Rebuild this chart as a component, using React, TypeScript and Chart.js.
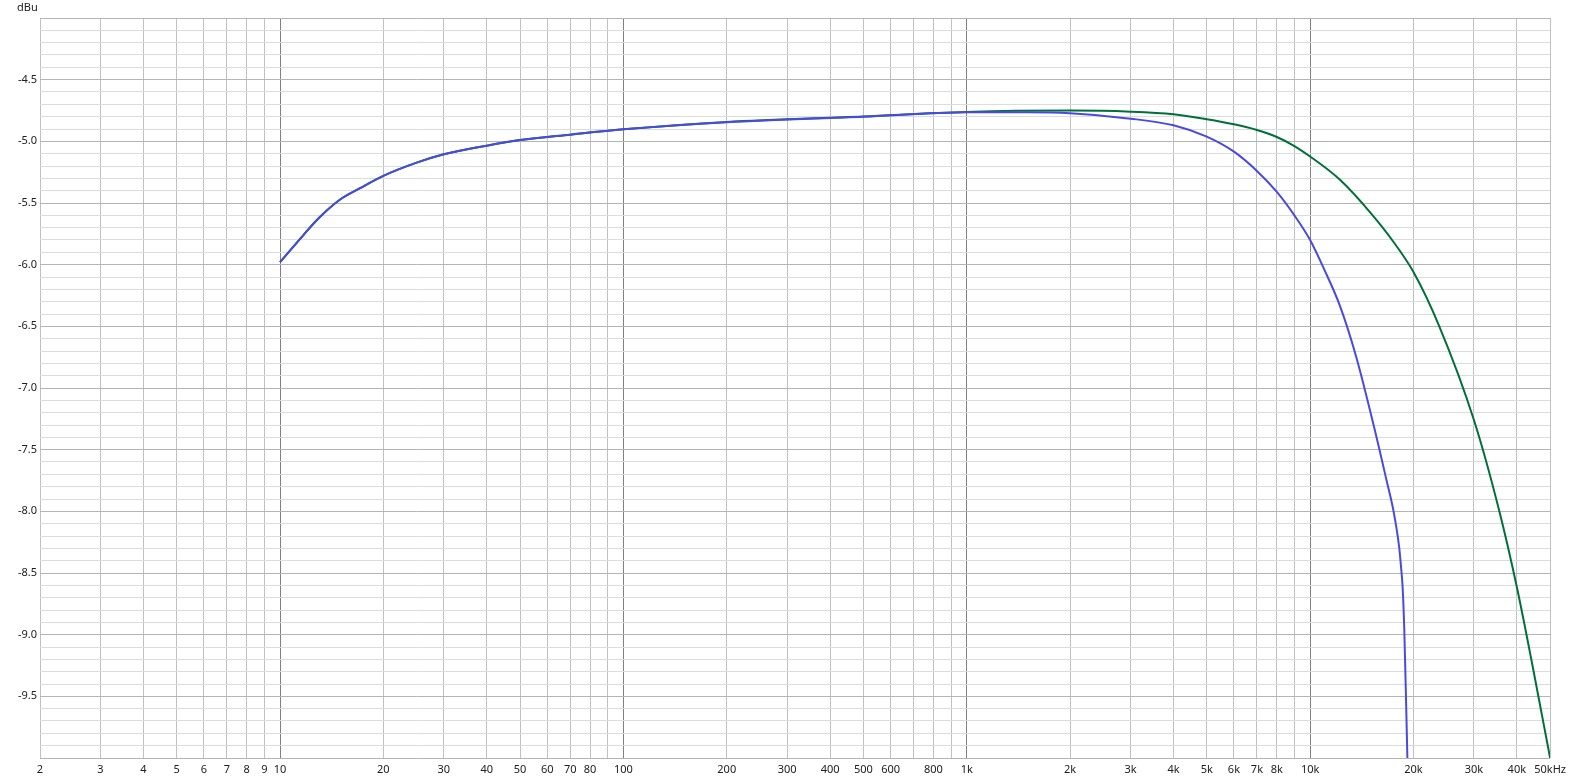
import React, { useEffect, useRef } from "react";
import { Chart, registerables } from "chart.js";

Chart.register(...registerables);

// Blue trace (Hz, dBu)
const blueFreq = [10, 11.7, 13, 15, 17.1, 20, 25, 30, 40, 50, 70, 100, 200, 500, 1000, 1500, 2000, 3000, 4000, 5000, 6000, 7000, 8000, 9000, 10000, 11000, 12200, 13600, 15400, 16700, 17500, 18150, 18400, 18600, 18800, 19000, 19200];
const blueLevel = [-5.98, -5.76, -5.62, -5.47, -5.38, -5.28, -5.173, -5.105, -5.035, -4.99, -4.946, -4.903, -4.845, -4.8, -4.765, -4.765, -4.773, -4.816, -4.87, -4.962, -5.084, -5.24, -5.41, -5.6, -5.8, -6.04, -6.33, -6.74, -7.33, -7.75, -8.0, -8.28, -8.45, -8.62, -8.95, -9.45, -10.0];

// Green trace (Hz, dBu)
const greenFreq = [10, 11.7, 13, 15, 17.1, 20, 25, 30, 40, 50, 70, 100, 200, 500, 1000, 2000, 3000, 4000, 5000, 6000, 7000, 8000, 9000, 10000, 12200, 15000, 17500, 20000, 23700, 30000, 35500, 40000, 44400, 50000];
const greenLevel = [-5.98, -5.76, -5.62, -5.47, -5.38, -5.28, -5.173, -5.105, -5.035, -4.99, -4.946, -4.903, -4.843, -4.798, -4.762, -4.751, -4.76, -4.781, -4.821, -4.862, -4.908, -4.965, -5.038, -5.123, -5.31, -5.58, -5.816, -6.06, -6.49, -7.26, -7.99, -8.614, -9.246, -10.0];

// X tick values and labels
const xTickValues = [2, 3, 4, 5, 6, 7, 8, 9, 10, 20, 30, 40, 50, 60, 70, 80, 90, 100, 200, 300, 400, 500, 600, 700, 800, 900, 1000, 2000, 3000, 4000, 5000, 6000, 7000, 8000, 9000, 10000, 20000, 30000, 40000, 50000];
const xTickLabels = ["2", "3", "4", "5", "6", "7", "8", "9", "10", "20", "30", "40", "50", "60", "70", "80", "", "100", "200", "300", "400", "500", "600", "", "800", "", "1k", "2k", "3k", "4k", "5k", "6k", "7k", "8k", "", "10k", "20k", "30k", "40k", "50kHz"];
const decadeLines = [10, 100, 1000, 10000];

// Y ticks: every 0.1 dB from -10 to -4, labels at 0.5 steps
const yTenths = Array.from({ length: 61 }, (_, i) => -100 + i);
const yLabels = ["-4.5", "-5.0", "-5.5", "-6.0", "-6.5", "-7.0", "-7.5", "-8.0", "-8.5", "-9.0", "-9.5"];

const FONT = "'Noto Sans', 'Open Sans', sans-serif";

export default function App() {
  const ref = useRef<HTMLCanvasElement | null>(null);

  useEffect(() => {
    document.body.style.margin = "0";
    const ctx = ref.current!.getContext("2d")!;
    const unitPlugin = {
      id: "unitLabel",
      afterDraw(chart: any) {
        const c = chart.ctx;
        c.save();
        c.font = `11px ${FONT}`;
        c.fillStyle = "#202020";
        c.textAlign = "left";
        c.textBaseline = "middle";
        c.fillText("dBu", 17, 8);
        c.restore();
      },
    };
    const chart = new Chart(ctx, {
      type: "line",
      data: {
        datasets: [
          {
            label: "blue",
            data: blueFreq.map((f, i) => ({ x: f, y: blueLevel[i] })),
            borderColor: "#4a4ae0",
            borderWidth: 2,
            pointRadius: 0,
            cubicInterpolationMode: "monotone",
            fill: false,
          },
          {
            label: "green",
            data: greenFreq.map((f, i) => ({ x: f, y: greenLevel[i] })),
            borderColor: "#00703a",
            borderWidth: 2,
            pointRadius: 0,
            cubicInterpolationMode: "monotone",
            fill: false,
          },
        ],
      },
      options: {
        animation: false,
        responsive: false,
        maintainAspectRatio: false,
        layout: { padding: { left: 0, top: 18, right: 20, bottom: 0 } },
        plugins: { legend: { display: false }, tooltip: { enabled: false } },
        scales: {
          x: {
            type: "logarithmic",
            min: 2,
            max: 50000,
            afterBuildTicks: (scale: any) => {
              scale.ticks = xTickValues.map((v) => ({ value: v }));
            },
            afterFit: (scale: any) => {
              scale.height = 25;
            },
            ticks: {
              autoSkip: false,
              maxRotation: 0,
              padding: 5,
              color: "#202020",
              font: { family: FONT, size: 11 },
              callback: (value: any) => {
                const idx = xTickValues.indexOf(Number(value));
                return idx >= 0 ? xTickLabels[idx] : "";
              },
            },
            grid: {
              drawTicks: false,
              color: (c: any) =>
                c.tick && decadeLines.includes(c.tick.value) ? "#808080" : "#c0c0c0",
              lineWidth: 1,
            },
            border: { display: false },
          },
          y: {
            type: "linear",
            min: -10,
            max: -4,
            afterBuildTicks: (scale: any) => {
              scale.ticks = yTenths.map((t) => ({ value: t / 10 }));
            },
            afterFit: (scale: any) => {
              scale.width = 40;
            },
            ticks: {
              autoSkip: false,
              padding: 3,
              color: "#202020",
              font: { family: FONT, size: 11 },
              callback: (value: any) => {
                const t = Math.round(Number(value) * 10);
                if (t % 5 !== 0 || t === -100 || t === -40) return "";
                const idx = (-45 - t) / 5;
                return yLabels[idx] ?? "";
              },
            },
            grid: {
              drawTicks: false,
              color: (c: any) => {
                if (!c.tick) return "#dcdcdc";
                const t = Math.round(c.tick.value * 10);
                return t % 5 === 0 ? "#b4b4b4" : "#dcdcdc";
              },
              lineWidth: 1,
            },
            border: { display: false },
          },
        },
      },
      plugins: [unitPlugin],
    } as any);
    return () => chart.destroy();
  }, []);

  return (
    <div style={{ position: "absolute", left: 0, top: 0, width: 1571, height: 783, background: "#ffffff" }}>
      <canvas ref={ref} width={1571} height={783} style={{ width: 1571, height: 783, display: "block" }} />
    </div>
  );
}
